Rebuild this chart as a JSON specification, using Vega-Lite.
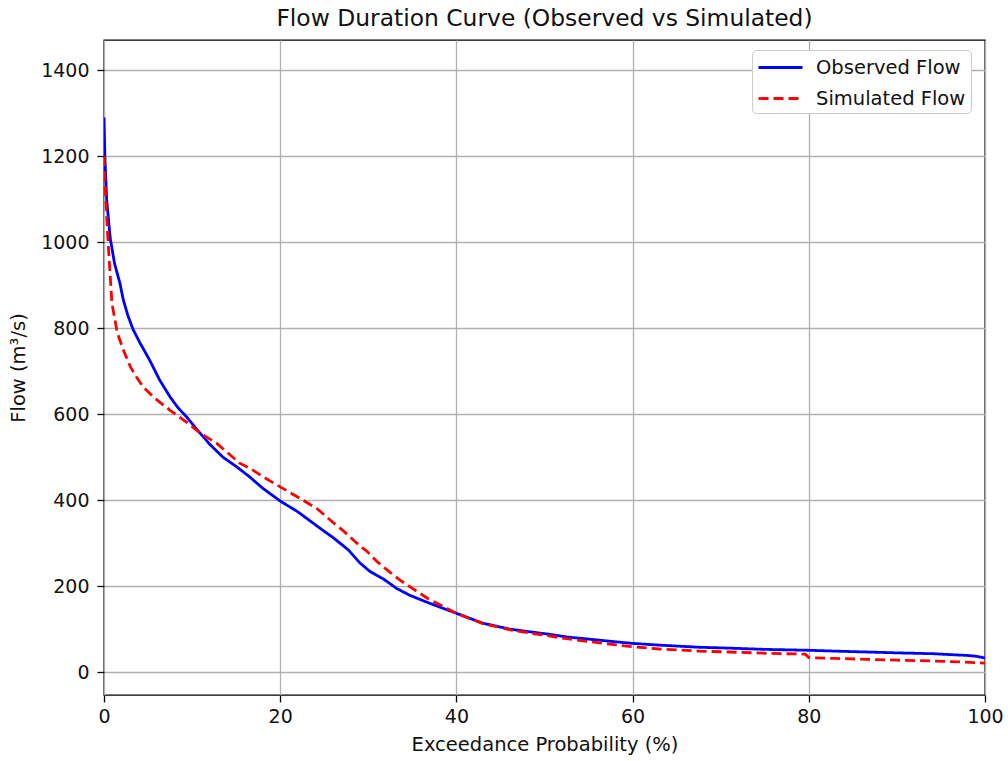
{
  "$schema": "https://vega.github.io/schema/vega-lite/v6.json",
  "width": 881,
  "height": 655,
  "autosize": {"type": "none"},
  "padding": {"left": 104, "top": 40, "right": 23, "bottom": 66},
  "background": "white",
  "config": {
    "font": "DejaVu Sans",
    "view": {"stroke": "black", "strokeWidth": 1.4},
    "axis": {
      "gridColor": "#b0b0b0",
      "gridWidth": 1.3,
      "domain": false,
      "tickColor": "black",
      "tickSize": 7,
      "tickWidth": 1.3,
      "labelFontSize": 19,
      "labelColor": "#111111",
      "labelFlush": false,
      "titleFontSize": 19.5,
      "titleFontWeight": "normal",
      "titleColor": "#111111"
    }
  },
  "title": {
    "text": "Flow Duration Curve (Observed vs Simulated)",
    "fontSize": 23.4,
    "fontWeight": "normal",
    "color": "#111111",
    "offset": 9
  },
  "data": {
    "values": [
      {"p": 0, "flow": 1290, "series": "Observed Flow"},
      {"p": 0.1, "flow": 1200, "series": "Observed Flow"},
      {"p": 0.3, "flow": 1100, "series": "Observed Flow"},
      {"p": 0.7, "flow": 1010, "series": "Observed Flow"},
      {"p": 1.2, "flow": 950, "series": "Observed Flow"},
      {"p": 1.8, "flow": 905, "series": "Observed Flow"},
      {"p": 2.2, "flow": 865, "series": "Observed Flow"},
      {"p": 2.7, "flow": 830, "series": "Observed Flow"},
      {"p": 3.3, "flow": 797, "series": "Observed Flow"},
      {"p": 4.1, "flow": 765, "series": "Observed Flow"},
      {"p": 5.2, "flow": 725, "series": "Observed Flow"},
      {"p": 6.3, "flow": 680, "series": "Observed Flow"},
      {"p": 7.5, "flow": 640, "series": "Observed Flow"},
      {"p": 8.4, "flow": 615, "series": "Observed Flow"},
      {"p": 9.4, "flow": 593, "series": "Observed Flow"},
      {"p": 10.6, "flow": 563, "series": "Observed Flow"},
      {"p": 12, "flow": 530, "series": "Observed Flow"},
      {"p": 13.5, "flow": 500, "series": "Observed Flow"},
      {"p": 15.1, "flow": 477, "series": "Observed Flow"},
      {"p": 16.6, "flow": 453, "series": "Observed Flow"},
      {"p": 18, "flow": 428, "series": "Observed Flow"},
      {"p": 20, "flow": 398, "series": "Observed Flow"},
      {"p": 22, "flow": 373, "series": "Observed Flow"},
      {"p": 24.5, "flow": 335, "series": "Observed Flow"},
      {"p": 26, "flow": 313, "series": "Observed Flow"},
      {"p": 27.7, "flow": 285, "series": "Observed Flow"},
      {"p": 29, "flow": 255, "series": "Observed Flow"},
      {"p": 30.2, "flow": 234, "series": "Observed Flow"},
      {"p": 31.7, "flow": 217, "series": "Observed Flow"},
      {"p": 33.2, "flow": 195, "series": "Observed Flow"},
      {"p": 34.7, "flow": 179, "series": "Observed Flow"},
      {"p": 37, "flow": 160, "series": "Observed Flow"},
      {"p": 40, "flow": 137, "series": "Observed Flow"},
      {"p": 43, "flow": 114, "series": "Observed Flow"},
      {"p": 45, "flow": 105, "series": "Observed Flow"},
      {"p": 46.1, "flow": 100, "series": "Observed Flow"},
      {"p": 48.7, "flow": 93, "series": "Observed Flow"},
      {"p": 50.6, "flow": 88, "series": "Observed Flow"},
      {"p": 52.5, "flow": 82, "series": "Observed Flow"},
      {"p": 55, "flow": 77, "series": "Observed Flow"},
      {"p": 57.4, "flow": 72, "series": "Observed Flow"},
      {"p": 60, "flow": 67, "series": "Observed Flow"},
      {"p": 63, "flow": 63, "series": "Observed Flow"},
      {"p": 67.6, "flow": 58, "series": "Observed Flow"},
      {"p": 71, "flow": 56, "series": "Observed Flow"},
      {"p": 75.2, "flow": 53, "series": "Observed Flow"},
      {"p": 80, "flow": 51, "series": "Observed Flow"},
      {"p": 83, "flow": 49, "series": "Observed Flow"},
      {"p": 86.6, "flow": 47, "series": "Observed Flow"},
      {"p": 90, "flow": 45, "series": "Observed Flow"},
      {"p": 94.1, "flow": 43, "series": "Observed Flow"},
      {"p": 96, "flow": 41, "series": "Observed Flow"},
      {"p": 98, "flow": 39, "series": "Observed Flow"},
      {"p": 99, "flow": 37, "series": "Observed Flow"},
      {"p": 100, "flow": 33, "series": "Observed Flow"},
      {"p": 0, "flow": 1200, "series": "Simulated Flow"},
      {"p": 0.1, "flow": 1144, "series": "Simulated Flow"},
      {"p": 0.3, "flow": 1060, "series": "Simulated Flow"},
      {"p": 0.5, "flow": 988, "series": "Simulated Flow"},
      {"p": 0.9, "flow": 858, "series": "Simulated Flow"},
      {"p": 1.5, "flow": 790, "series": "Simulated Flow"},
      {"p": 2.2, "flow": 749, "series": "Simulated Flow"},
      {"p": 3, "flow": 710, "series": "Simulated Flow"},
      {"p": 3.7, "flow": 686, "series": "Simulated Flow"},
      {"p": 4.5, "flow": 662, "series": "Simulated Flow"},
      {"p": 5.6, "flow": 640, "series": "Simulated Flow"},
      {"p": 6.5, "flow": 625, "series": "Simulated Flow"},
      {"p": 7.5, "flow": 609, "series": "Simulated Flow"},
      {"p": 9.4, "flow": 581, "series": "Simulated Flow"},
      {"p": 11, "flow": 555, "series": "Simulated Flow"},
      {"p": 12.8, "flow": 532, "series": "Simulated Flow"},
      {"p": 15.4, "flow": 486, "series": "Simulated Flow"},
      {"p": 16.6, "flow": 474, "series": "Simulated Flow"},
      {"p": 18, "flow": 455, "series": "Simulated Flow"},
      {"p": 20, "flow": 431, "series": "Simulated Flow"},
      {"p": 22.6, "flow": 400, "series": "Simulated Flow"},
      {"p": 24.2, "flow": 380, "series": "Simulated Flow"},
      {"p": 26, "flow": 348, "series": "Simulated Flow"},
      {"p": 27.1, "flow": 330, "series": "Simulated Flow"},
      {"p": 28.7, "flow": 300, "series": "Simulated Flow"},
      {"p": 29.9, "flow": 280, "series": "Simulated Flow"},
      {"p": 31, "flow": 257, "series": "Simulated Flow"},
      {"p": 32.3, "flow": 235, "series": "Simulated Flow"},
      {"p": 33.6, "flow": 214, "series": "Simulated Flow"},
      {"p": 35, "flow": 195, "series": "Simulated Flow"},
      {"p": 36.7, "flow": 172, "series": "Simulated Flow"},
      {"p": 38.3, "flow": 155, "series": "Simulated Flow"},
      {"p": 40, "flow": 137, "series": "Simulated Flow"},
      {"p": 43, "flow": 113, "series": "Simulated Flow"},
      {"p": 45, "flow": 104, "series": "Simulated Flow"},
      {"p": 46.4, "flow": 97, "series": "Simulated Flow"},
      {"p": 48.7, "flow": 90, "series": "Simulated Flow"},
      {"p": 52.5, "flow": 78, "series": "Simulated Flow"},
      {"p": 56.3, "flow": 68, "series": "Simulated Flow"},
      {"p": 60, "flow": 59, "series": "Simulated Flow"},
      {"p": 63, "flow": 54, "series": "Simulated Flow"},
      {"p": 67.6, "flow": 49, "series": "Simulated Flow"},
      {"p": 71, "flow": 47, "series": "Simulated Flow"},
      {"p": 75.2, "flow": 44, "series": "Simulated Flow"},
      {"p": 79.6, "flow": 42, "series": "Simulated Flow"},
      {"p": 80, "flow": 34, "series": "Simulated Flow"},
      {"p": 83, "flow": 32, "series": "Simulated Flow"},
      {"p": 86.6, "flow": 30, "series": "Simulated Flow"},
      {"p": 90, "flow": 28, "series": "Simulated Flow"},
      {"p": 94.1, "flow": 26, "series": "Simulated Flow"},
      {"p": 97, "flow": 24, "series": "Simulated Flow"},
      {"p": 100, "flow": 21, "series": "Simulated Flow"}
    ]
  },
  "mark": {"type": "line", "strokeWidth": 2.8, "clip": true},
  "encoding": {
    "x": {
      "field": "p",
      "type": "quantitative",
      "scale": {"domain": [0, 100], "nice": false, "zero": false},
      "axis": {"values": [0, 20, 40, 60, 80, 100], "title": "Exceedance Probability (%)", "labelPadding": 5, "titlePadding": 9}
    },
    "y": {
      "field": "flow",
      "type": "quantitative",
      "scale": {"domain": [-53, 1470], "nice": false, "zero": false},
      "axis": {"values": [0, 200, 400, 600, 800, 1000, 1200, 1400], "format": "d", "title": "Flow (m³/s)", "labelPadding": 8, "titlePadding": 12}
    },
    "color": {
      "field": "series",
      "type": "nominal",
      "scale": {"domain": ["Observed Flow", "Simulated Flow"], "range": ["#0000ff", "#ff0000"]},
      "legend": {
        "title": null,
        "orient": "none",
        "legendX": 648,
        "legendY": 10,
        "fillColor": "white",
        "strokeColor": "#cccccc",
        "cornerRadius": 4,
        "padding": 5,
        "labelFontSize": 19.5,
        "labelColor": "#111111",
        "symbolType": "M-2,0H2",
        "symbolSize": 484,
        "symbolStrokeWidth": 2.8,
        "symbolOffset": 11,
        "rowPadding": 9,
        "labelOffset": 23
      }
    },
    "strokeDash": {
      "field": "series",
      "type": "nominal",
      "scale": {"domain": ["Observed Flow", "Simulated Flow"], "range": [[1, 0], [10, 5]]},
      "legend": null
    }
  }
}
